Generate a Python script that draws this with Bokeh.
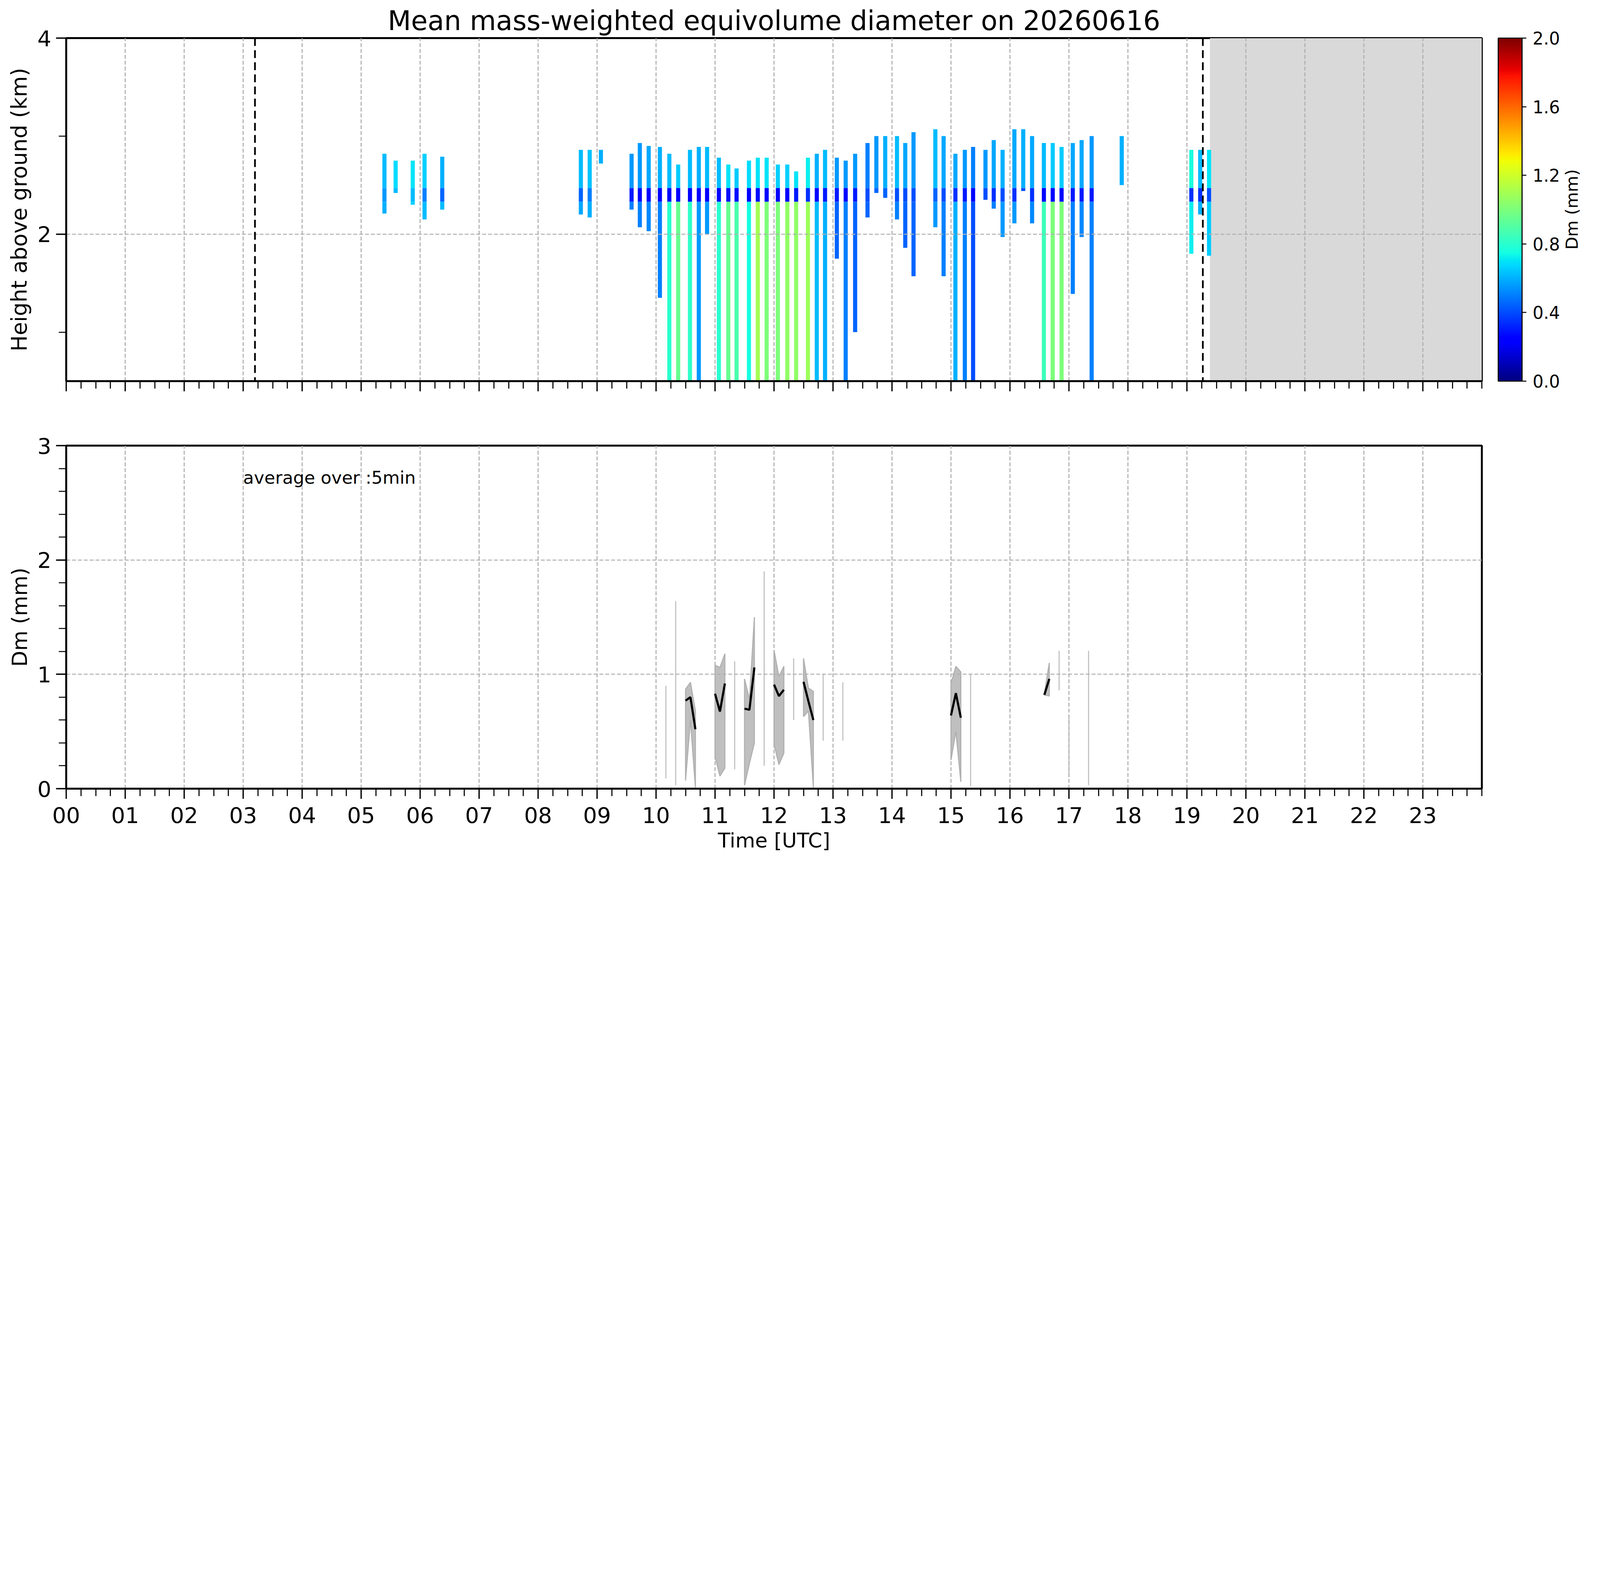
import numpy as np
from bokeh.plotting import figure
from bokeh.layouts import column
from bokeh.models import (ColumnDataSource, LinearColorMapper, ColorBar, FixedTicker, LinearAxis,
                          Span, Label, CustomJSTickFormatter, PrintfTickFormatter, Range1d)
from bokeh.embed import file_html
from bokeh.resources import INLINE

FONT = "DejaVu Sans"
DAY = "20260616"

# --- radar profiles (top panel) ---------------------------------------------
# start hour (UTC), echo top (km), echo base (km), Dm above / in / below the melting layer (mm)
prof_start = [5.36, 5.55, 5.84, 6.04, 6.34, 8.69, 8.84, 9.03, 9.55, 9.69, 9.84,
              10.03, 10.19, 10.34, 10.54, 10.69, 10.83, 11.03, 11.19, 11.33, 11.54, 11.69, 11.84,
              12.03, 12.19, 12.34, 12.54, 12.69, 12.83, 13.03, 13.18, 13.34, 13.55, 13.70, 13.85,
              14.05, 14.19, 14.33, 14.70, 14.84, 15.04, 15.20, 15.34, 15.55, 15.69, 15.84,
              16.04, 16.19, 16.34, 16.54, 16.69, 16.84, 17.03, 17.18, 17.35, 17.86,
              19.04, 19.19, 19.34]
prof_top = [2.82, 2.75, 2.75, 2.82, 2.79, 2.86, 2.86, 2.86, 2.82, 2.93, 2.90,
            2.89, 2.82, 2.71, 2.86, 2.89, 2.89, 2.78, 2.71, 2.67, 2.75, 2.78, 2.78,
            2.71, 2.71, 2.64, 2.78, 2.82, 2.86, 2.78, 2.75, 2.82, 2.93, 3.00, 3.00,
            3.00, 2.93, 3.04, 3.07, 3.00, 2.82, 2.86, 2.89, 2.86, 2.96, 2.86,
            3.07, 3.07, 3.00, 2.93, 2.93, 2.89, 2.93, 2.96, 3.00, 3.00,
            2.86, 2.86, 2.86]
prof_base = [2.21, 2.42, 2.30, 2.15, 2.25, 2.20, 2.17, 2.72, 2.25, 2.07, 2.03,
             1.35, 0.50, 0.50, 0.50, 0.50, 2.00, 0.50, 0.50, 0.50, 0.50, 0.50, 0.50,
             0.50, 0.50, 0.50, 0.50, 0.50, 0.50, 1.75, 0.50, 1.00, 2.17, 2.42, 2.37,
             2.15, 1.86, 1.57, 2.07, 1.57, 0.50, 0.50, 0.50, 2.35, 2.26, 1.97,
             2.11, 2.44, 2.11, 0.50, 0.50, 0.50, 1.39, 1.97, 0.50, 2.50,
             1.80, 2.20, 1.78]
dm_ice = [0.62, 0.68, 0.70, 0.66, 0.60, 0.62, 0.64, 0.60, 0.55, 0.55, 0.58,
          0.60, 0.62, 0.65, 0.62, 0.60, 0.62, 0.62, 0.70, 0.65, 0.68, 0.70, 0.70,
          0.66, 0.66, 0.70, 0.72, 0.60, 0.62, 0.55, 0.55, 0.55, 0.50, 0.55, 0.60,
          0.62, 0.58, 0.55, 0.62, 0.58, 0.58, 0.55, 0.50, 0.55, 0.58, 0.60,
          0.58, 0.60, 0.58, 0.62, 0.65, 0.65, 0.58, 0.58, 0.55, 0.60,
          0.76, 0.62, 0.70]
dm_melt = [0.55, 0.62, 0.62, 0.50, 0.45, 0.45, 0.50, 0.60, 0.30, 0.25, 0.25,
           0.22, 0.25, 0.25, 0.25, 0.22, 0.25, 0.25, 0.28, 0.28, 0.25, 0.28, 0.25,
           0.22, 0.22, 0.30, 0.35, 0.25, 0.30, 0.30, 0.25, 0.30, 0.40, 0.45, 0.45,
           0.40, 0.40, 0.40, 0.45, 0.40, 0.35, 0.30, 0.25, 0.40, 0.35, 0.40,
           0.35, 0.40, 0.35, 0.25, 0.25, 0.25, 0.30, 0.30, 0.30, 0.50,
           0.35, 0.35, 0.40]
dm_rain = [0.60, 0.65, 0.66, 0.62, 0.62, 0.58, 0.60, 0.60, 0.50, 0.50, 0.52,
           0.50, 0.80, 0.95, 0.82, 0.55, 0.55, 0.80, 0.95, 0.88, 0.75, 1.10, 1.00,
           1.00, 1.05, 1.05, 1.08, 0.62, 0.60, 0.45, 0.50, 0.45, 0.45, 0.50, 0.50,
           0.50, 0.45, 0.45, 0.55, 0.50, 0.60, 0.50, 0.40, 0.50, 0.50, 0.55,
           0.55, 0.55, 0.52, 0.85, 1.00, 1.00, 0.50, 0.52, 0.50, 0.55,
           0.72, 0.60, 0.65]
PROFILE_LEN = 0.07                # hours covered by one profile
MELT_TOP, MELT_BOT = 2.47, 2.33   # km
NODATA_FROM = 19.39               # no radar data after this hour
MARKS = [3.2, 19.27]              # dashed markers (hour)

# --- 5-min averages (bottom panel) ------------------------------------------
ts_hour = [10.167, 10.333, 10.5, 10.583, 10.667, 11.0, 11.083, 11.167, 11.333,
           11.5, 11.583, 11.667, 11.833, 12.0, 12.083, 12.167, 12.333, 12.5, 12.583,
           12.667, 12.833, 13.167, 15.0, 15.083, 15.167, 15.333, 16.583, 16.667,
           16.833, 17.0, 17.333]
ts_mean = [np.nan, np.nan, 0.77, 0.80, 0.52, 0.83, 0.675, 0.92, np.nan,
           0.70, 0.69, 1.06, np.nan, 0.91, 0.81, 0.865, np.nan, 0.935, 0.765,
           0.60, np.nan, np.nan, 0.64, 0.835, 0.62, np.nan, 0.82, 0.96,
           np.nan, np.nan, np.nan]
ts_high = [0.90, 1.64, 0.87, 0.93, 0.68, 1.08, 1.06, 1.18, 1.115,
           0.96, 0.78, 1.50, 1.90, 1.21, 0.98, 1.07, 1.14, 1.14, 0.88,
           0.85, 1.00, 0.93, 0.92, 1.07, 1.02, 1.00, 0.83, 1.10,
           1.205, 0.63, 1.205]
ts_low = [0.09, 0.03, 0.07, 0.60, 0.01, 0.28, 0.11, 0.18, 0.17,
          0.03, 0.22, 0.40, 0.20, 0.39, 0.21, 0.31, 0.60, 0.63, 0.68,
          0.01, 0.42, 0.42, 0.25, 0.50, 0.06, 0.02, 0.82, 0.81,
          0.86, 0.10, 0.03]

# sizes below are measured on the 7442 px wide original, S shrinks them to the page
S = 0.549


def px(v):
    return int(round(v * S))


def fs(v):
    return "%dpx" % round(v * S)


def jet(n=256):
    t = np.linspace(0, 1, n)
    r = np.interp(t, [0, 0.35, 0.66, 0.89, 1], [0, 0, 1, 1, 0.5])
    g = np.interp(t, [0, 0.125, 0.375, 0.64, 0.91, 1], [0, 0, 1, 1, 0, 0])
    b = np.interp(t, [0, 0.11, 0.34, 0.65, 1], [0.5, 1, 1, 0, 0])
    return ["#%02x%02x%02x" % (int(round(255 * a)), int(round(255 * c)), int(round(255 * d)))
            for a, c, d in zip(r, g, b)]


def style(p):
    for ax in p.axis:
        ax.axis_line_width = 9 * S
        ax.major_tick_line_width = 6 * S
        ax.minor_tick_line_width = 5 * S
        ax.major_tick_in = 0
        ax.major_tick_out = px(48)
        ax.minor_tick_in = 0
        ax.minor_tick_out = px(34)
        ax.major_label_text_font = FONT
        ax.major_label_text_font_size = fs(102)
        ax.major_label_text_color = "black"
        ax.axis_label_text_font = FONT
        ax.axis_label_text_font_style = "normal"
        ax.axis_label_text_color = "black"
    p.xaxis.major_label_standoff = px(38)
    p.xaxis.axis_label_standoff = px(22)
    p.xaxis.axis_label_text_font_size = fs(95)
    p.yaxis.major_label_standoff = px(22)
    p.yaxis.axis_label_standoff = px(22)
    p.outline_line_color = "black"
    p.outline_line_width = 9 * S
    p.outline_line_alpha = 1
    for g in (p.xgrid, p.ygrid):
        g.grid_line_color = "#b0b0b0"
        g.grid_line_dash = "10 5"
        g.grid_line_width = 5 * S


PAGE_W = px(7426)
BORDER_L, BORDER_R = px(307), px(516)
FRAME_W = PAGE_W - BORDER_L - BORDER_R
FRAME_H = px(1600)

hour_ticks = FixedTicker(ticks=list(range(24)), minor_ticks=[i * 0.25 for i in range(97)])
hour_labels = {i: "%02d" % i for i in range(24)}

# ---------------------------------------------------------------- top panel
Y0, Y1 = 0.5, 4.0
left, right, bottom, top, dm = [], [], [], [], []
for i, t0 in enumerate(prof_start):
    pieces = [(max(MELT_TOP, prof_base[i]), prof_top[i], dm_ice[i]),
              (max(MELT_BOT, prof_base[i]), min(MELT_TOP, prof_top[i]), dm_melt[i]),
              (prof_base[i], min(MELT_BOT, prof_top[i]), dm_rain[i])]
    for lo, hi, v in pieces:
        if hi > lo:
            left.append(t0)
            right.append(min(t0 + PROFILE_LEN, 24))
            bottom.append(lo)
            top.append(hi)
            dm.append(v)
cells = ColumnDataSource(dict(left=left, right=right, bottom=bottom, top=top, dm=dm))

mapper = LinearColorMapper(palette=jet(), low=0, high=2)

top_b, bot_b = px(177), px(215)
p1 = figure(width=PAGE_W, height=top_b + FRAME_H + bot_b, x_range=Range1d(0, 24),
            y_range=Range1d(Y0, Y1), output_backend="svg", toolbar_location=None,
            min_border_left=BORDER_L, min_border_right=BORDER_R,
            min_border_top=top_b, min_border_bottom=bot_b,
            title="Mean mass-weighted equivolume diameter on " + DAY)
p1.title.text_font = FONT
p1.title.text_font_size = fs(126)
p1.title.text_font_style = "normal"
p1.title.text_color = "black"
p1.title.align = "center"

p1.quad(left=[NODATA_FROM], right=[24], bottom=[Y0], top=[Y1],
        fill_color="#d9d9d9", line_color=None, level="image")
p1.quad(left="left", right="right", bottom="bottom", top="top", source=cells,
        fill_color={"field": "dm", "transform": mapper}, line_color=None, level="image")
for m in MARKS:
    p1.add_layout(Span(location=m, dimension="height", line_color="black",
                       line_width=8 * S, line_dash="20 11"))

p1.xaxis.ticker = hour_ticks
p1.xaxis.formatter = CustomJSTickFormatter(code="return ''")
p1.yaxis.ticker = FixedTicker(ticks=[2, 4], minor_ticks=[1, 3])
p1.yaxis.axis_label = "Height above ground (km)"
style(p1)
p1.yaxis.axis_label_text_font_size = fs(100)

cb = ColorBar(color_mapper=mapper, width=px(112), height=FRAME_H, padding=0, margin=0,
              location=(FRAME_W + px(74), 0),
              ticker=FixedTicker(ticks=[0.0, 0.4, 0.8, 1.2, 1.6, 2.0]),
              formatter=PrintfTickFormatter(format="%.1f"),
              bar_line_color="black", bar_line_width=5 * S,
              major_tick_in=0, major_tick_out=px(20),
              major_tick_line_color="black", major_tick_line_width=5 * S,
              minor_tick_line_color=None, label_standoff=px(30),
              major_label_text_font=FONT, major_label_text_font_size=fs(80),
              major_label_text_color="black",
              background_fill_alpha=0, border_line_color=None)
p1.add_layout(cb)

# colour bar title: a bare right axis with one tick whose label is the title.
# A label turned by +90 deg starts at its tick and runs upwards, so the tick sits
# half a label length below the middle of the bar.
CB_LABEL_FS = 78
half_label_km = 0.5 * 4.79 * CB_LABEL_FS * (Y1 - Y0) / 1600   # text is ~4.8 em long
cb_title = LinearAxis(ticker=FixedTicker(ticks=[(Y0 + Y1) / 2 - half_label_km]),
                      formatter=CustomJSTickFormatter(code="return 'Dm (mm)'"),
                      major_label_orientation=np.pi / 2,
                      axis_line_color=None, major_tick_line_color=None,
                      minor_tick_line_color=None, major_tick_in=0, major_tick_out=0,
                      minor_tick_in=0, minor_tick_out=0, major_label_standoff=px(420),
                      major_label_text_font=FONT, major_label_text_font_size=fs(CB_LABEL_FS),
                      major_label_text_color="black")
p1.add_layout(cb_title, "right")

# ------------------------------------------------------------- bottom panel
top_b2, bot_b2 = px(86), px(360)
p2 = figure(width=PAGE_W, height=top_b2 + FRAME_H + bot_b2, x_range=Range1d(0, 24),
            y_range=Range1d(0, 3), output_backend="svg", toolbar_location=None,
            min_border_left=BORDER_L, min_border_right=BORDER_R,
            min_border_top=top_b2, min_border_bottom=bot_b2)

runs, cur = [], [0]
for i in range(1, len(ts_hour)):
    if ts_hour[i] - ts_hour[i - 1] > 0.09:
        runs.append(cur)
        cur = []
    cur.append(i)
runs.append(cur)

pxs, pys, lxs, lys, sx, s0, s1 = [], [], [], [], [], [], []
for r in runs:
    t = [ts_hour[i] for i in r]
    if len(r) == 1:
        sx.append(t[0])
        s0.append(ts_low[r[0]])
        s1.append(ts_high[r[0]])
        continue
    pxs.append(t + t[::-1])
    pys.append([ts_high[i] for i in r] + [ts_low[i] for i in r][::-1])
    lxs.append(t)
    lys.append([ts_mean[i] for i in r])

p2.patches(pxs, pys, fill_color="#bfbfbf", line_color="#b0b0b0", line_width=5 * S,
           level="image")
p2.segment(x0=sx, y0=s0, x1=sx, y1=s1, line_color="#bfbfbf", line_width=5 * S,
           level="image")
p2.multi_line(lxs, lys, line_color="black", line_width=10 * S)
p2.add_layout(Label(x=3.0, y=2.72, text="average over :5min", text_font=FONT,
                    text_font_size=fs(82), text_baseline="alphabetic", text_align="left",
                    text_color="black"))

p2.xaxis.ticker = hour_ticks
p2.xaxis.major_label_overrides = hour_labels
p2.xaxis.axis_label = "Time [UTC]"
p2.yaxis.ticker = FixedTicker(ticks=[0, 1, 2, 3], minor_ticks=[i * 0.2 for i in range(16)])
p2.yaxis.axis_label = "Dm (mm)"
style(p2)
p2.yaxis.axis_label_text_font_size = fs(96)

page = column(p1, p2)
open("out.html", "w").write(file_html(page, INLINE))
